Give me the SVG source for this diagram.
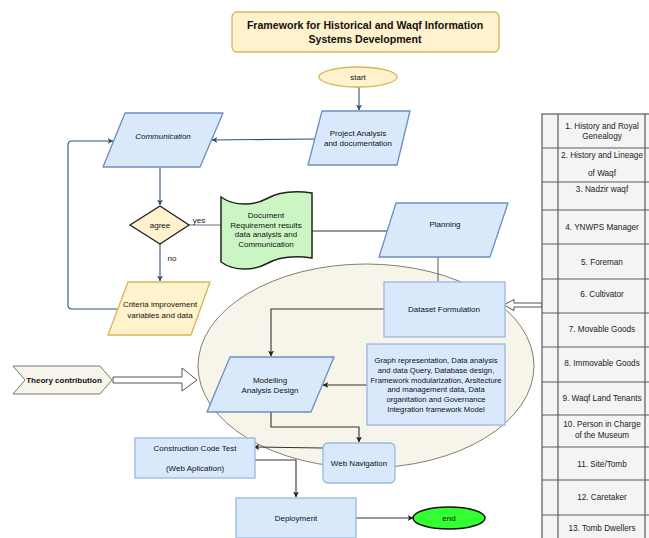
<svg xmlns="http://www.w3.org/2000/svg" width="649" height="538" viewBox="0 0 649 538">
<style>
text{font-family:"Liberation Sans",Arial,sans-serif;font-size:8px;fill:#111;text-anchor:middle}
.t{font-size:10.6px;font-weight:bold}
.tb{font-size:8.2px;fill:#222}
.g{font-size:7.7px}
.blue{fill:#dae8fc;stroke:#6c8ebf;stroke-width:1.3;stroke-linejoin:round}
.rect{fill:#dae8fc;stroke:#9ab8e0;stroke-width:1.3}
.yel{fill:#fff2cc;stroke:#d6b656;stroke-width:1.3;stroke-linejoin:round}
.cb{fill:none;stroke:#2b557d;stroke-width:1.1}
.ck{fill:none;stroke:#333;stroke-width:1.1}
.cg{fill:none;stroke:#666;stroke-width:1.1}
.cell{fill:#f4f4f4;stroke:#5a5a5a;stroke-width:1.2}
.hol{fill:#fff;stroke:#555;stroke-width:1}
</style>
<defs>
<marker id="ab" viewBox="0 0 10 10" refX="9" refY="5" markerWidth="6" markerHeight="6" orient="auto" markerUnits="userSpaceOnUse"><path d="M0,0 L10,5 L0,10 L2.5,5 Z" fill="#2b557d"/></marker>
<marker id="ak" viewBox="0 0 10 10" refX="9" refY="5" markerWidth="6" markerHeight="6" orient="auto" markerUnits="userSpaceOnUse"><path d="M0,0 L10,5 L0,10 L2.5,5 Z" fill="#222"/></marker>
</defs>

<g id="ellipse-bg"><ellipse cx="366" cy="366" rx="168" ry="102" fill="#f7f4ea" stroke="#7f7f70" stroke-width="1"/></g>

<g id="title"><rect x="232" y="12" width="267" height="40" rx="5" class="yel"/>
<text x="365" y="28.5" class="t">Framework for Historical and Waqf Information</text>
<text x="365" y="43" class="t">Systems Development</text></g>

<g id="connectors">
<path d="M359,87 L359,110" class="cb" marker-end="url(#ab)"/>
<path d="M315,139 L212,140" class="cb" marker-end="url(#ab)"/>
<path d="M118,309 L72,309 Q68,309 68,305 L68,145 Q68,141 72,141 L113,141" class="cb" marker-end="url(#ab)"/>
<path d="M160,168 L160,205" class="cb" marker-end="url(#ab)"/>
<path d="M160,244 L160,281" class="cb" marker-end="url(#ab)"/>
<path d="M189,225 L221,225" fill="none" stroke="#6a7f95" stroke-width="1.1"/>
<path d="M312,231 L392,231" class="ck" marker-end="url(#ak)"/>
<path d="M438,257 L438,282" class="cg"/>
<path d="M384,309 L271,309 L271,356" class="ck" marker-end="url(#ak)"/>
<path d="M367,385 L323,385" class="ck" marker-end="url(#ak)"/>
<path d="M271,412 L271,427 L359,427 L359,442" class="ck" marker-end="url(#ak)"/>
<path d="M323,448 L254,447" class="ck" marker-end="url(#ak)"/>
<path d="M255,460 L296,460 L296,497" class="ck" marker-end="url(#ak)"/>
<path d="M356,518 L413,518" class="ck" marker-end="url(#ak)"/>
<path d="M542,303 L514,303 L514,299.5 L504,305 L514,310.5 L514,307 L542,307 Z" class="hol"/>
<path d="M113,377 L182,377 L182,368 L197,380 L182,391 L182,383 L113,383 Z" class="hol"/>
<text x="199" y="223">yes</text>
<text x="172" y="261">no</text>
</g>

<g id="start"><ellipse cx="358" cy="77" rx="39" ry="10" class="yel"/><text x="358" y="80">start</text></g>

<g id="project"><path d="M322,111 L410,111 L397,165 L308,165 Z" class="blue"/>
<text x="358" y="136">Project Analysis</text><text x="358" y="146">and documentation</text></g>

<g id="communication"><path d="M125,113 L223,113 L200,167 L103,167 Z" class="blue"/>
<text x="163" y="139" font-style="italic">Communication</text></g>

<g id="agree"><path d="M160,206 L189,225 L160,244 L130,225 Z" fill="#fff2cc" stroke="#222" stroke-width="1.3"/>
<text x="160" y="228">agree</text></g>

<g id="criteria"><path d="M128,282 L210,282 L191,335 L108,335 Z" class="yel"/>
<text x="160" y="307">Criteria improvement</text><text x="160" y="318">variables and data</text></g>

<g id="document"><path d="M221,197 C235,207 255,205 266,199 C280,191 298,191 312,193 L312,258 C298,256 280,256 266,264 C255,270 235,272 221,262 Z" fill="#ccf5c4" stroke="#222" stroke-width="1.5"/>
<text x="266" y="218">Document</text><text x="266" y="228">Requirement results</text><text x="266" y="237">data analysis and</text><text x="266" y="247">Communication</text></g>

<g id="planning"><path d="M396,203 L508,203 L490,257 L379,257 Z" class="blue"/>
<text x="445" y="227" font-size="8.3">Planning</text></g>

<g id="dataset"><rect x="384" y="282" width="121" height="55" class="rect"/>
<text x="444" y="312" font-size="8.3">Dataset Formulation</text></g>

<g id="modelling"><path d="M230,357 L334,357 L311,412 L207,412 Z" class="blue"/>
<text x="270" y="383">Modelling</text><text x="270" y="393">Analysis Design</text></g>

<g id="graph"><rect x="367" y="344" width="138" height="81" class="rect"/>
<text x="436" y="363" class="g">Graph representation, Data analysis</text>
<text x="436" y="372.8" class="g">and data Query,  Database design,</text>
<text x="436" y="382.6" class="g">Framework modularization, Arsitecture</text>
<text x="436" y="392.4" class="g">and management data, Data</text>
<text x="436" y="402.2" class="g">organitation and Governance</text>
<text x="436" y="412" class="g">Integration framework Model</text></g>

<g id="theory"><path d="M13,366 L100,366 L112,380 L100,394 L13,394 L25,380 Z" fill="#f7f4ea" stroke="#777" stroke-width="1"/>
<text x="64" y="383" font-weight="bold" font-size="8.2">Theory contribution</text></g>

<g id="webnav"><rect x="323" y="443" width="72" height="40" rx="5" class="rect"/>
<text x="359" y="466">Web Navigation</text></g>

<g id="construction"><rect x="135" y="438" width="120" height="40" class="rect"/>
<text x="195" y="451">Construction Code Test</text><text x="195" y="471">(Web Aplication)</text></g>

<g id="deployment"><rect x="236" y="498" width="120" height="40" class="rect"/>
<text x="296" y="521">Deployment</text></g>

<g id="end"><ellipse cx="449" cy="518" rx="36" ry="11" fill="#33ff33" stroke="#111" stroke-width="1.5"/>
<text x="449" y="521">end</text></g>

<g id="table">
<rect x="542" y="114" width="110" height="430" class="cell"/>
<path d="M558,114 L558,540 M645,114 L645,540 M542,148 L652,148 M542,182 L652,182 M542,210 L652,210 M542,244 L652,244 M542,279 L652,279 M542,313 L652,313 M542,347 L652,347 M542,382 L652,382 M542,415 L652,415 M542,447 L652,447 M542,480 L652,480 M542,515 L652,515" fill="none" stroke="#5a5a5a" stroke-width="1.2"/>
<text x="602" y="129" class="tb">1. History and Royal</text><text x="602" y="139" class="tb">Genealogy</text>
<text x="602" y="158" class="tb">2. History and Lineage</text><text x="602" y="176" class="tb">of Waqf</text>
<text x="602" y="192" class="tb">3. Nadzir waqf</text>
<text x="602" y="230" class="tb">4. YNWPS Manager</text>
<text x="602" y="265" class="tb">5. Foreman</text>
<text x="602" y="297" class="tb">6. Cultivator</text>
<text x="602" y="332" class="tb">7. Movable Goods</text>
<text x="602" y="366" class="tb">8. Immovable Goods</text>
<text x="602" y="401" class="tb">9. Waqf Land Tenants</text>
<text x="602" y="427" class="tb">10. Person in Charge</text><text x="602" y="438" class="tb">of the Museum</text>
<text x="602" y="467" class="tb">11. Site/Tomb</text>
<text x="602" y="500" class="tb">12. Caretaker</text>
<text x="602" y="531" class="tb">13. Tomb Dwellers</text>
</g>
</svg>
